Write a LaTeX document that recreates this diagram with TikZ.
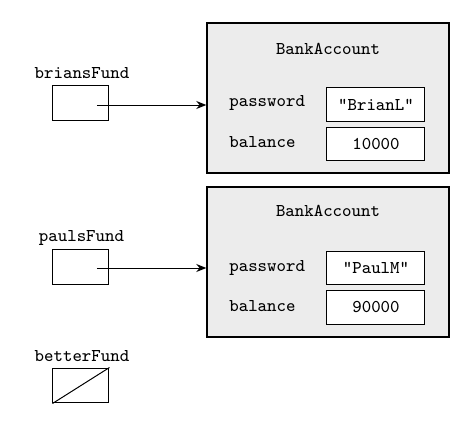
\documentclass[tikz,border=0pt]{standalone}
\usetikzlibrary{arrows.meta}
\begin{document}
\begin{tikzpicture}[x=0.5pt,y=-0.5pt,
  every node/.style={font=\fontsize{9}{11}\selectfont\ttfamily, inner sep=0pt},
  objbox/.style={draw, line width=0.7pt, fill=gray!15, minimum width=121pt, minimum height=75pt},
  valbox/.style={draw, line width=0.5pt, fill=white, minimum width=49pt, minimum height=16.8pt},
  refbox/.style={draw, line width=0.5pt, minimum width=28pt, minimum height=17.5pt},
  lbl/.style={anchor=mid},
  fld/.style={anchor=mid west},
  ptr/.style={line width=0.5pt, -{Stealth[length=5pt,width=4pt]}}]
\useasboundingbox (0,0) rectangle (468,429);
% first object
\node[objbox] (o1) at (328,98) {};
\node[lbl] (t1) at (328,50.5) {BankAccount};
\node[fld] (p1) at (229,102.5) {password};
\node[fld] (b1) at (229,143.5) {balance};
\node[valbox] (pv1) at (376,104.5) {"BrianL"};
\node[valbox] (bv1) at (376,144) {10000};
% second object
\node[objbox] (o2) at (328,262) {};
\node[lbl] (t2) at (328,212.5) {BankAccount};
\node[fld] (p2) at (229,266.7) {password};
\node[fld] (b2) at (229,307) {balance};
\node[valbox] (pv2) at (376,268) {"PaulM"};
\node[valbox] (bv2) at (376,307.5) {90000};
% references
\node[lbl] (l1) at (82,74) {briansFund};
\node[refbox] (r1) at (81,102.5) {};
\node[lbl] (l2) at (81.5,237.5) {paulsFund};
\node[refbox] (r2) at (81,266.5) {};
\node[lbl] (l3) at (82,357.5) {betterFund};
\node[refbox] (r3) at (81,385.5) {};
\draw[line width=0.5pt] (r3.south west) -- (r3.north east);
% pointers
\coordinate (s1) at (97,105);
\coordinate (s2) at (97,268);
\draw[ptr] (s1) -- (s1 -| o1.west);
\draw[ptr] (s2) -- (s2 -| o2.west);
\end{tikzpicture}
\end{document}
